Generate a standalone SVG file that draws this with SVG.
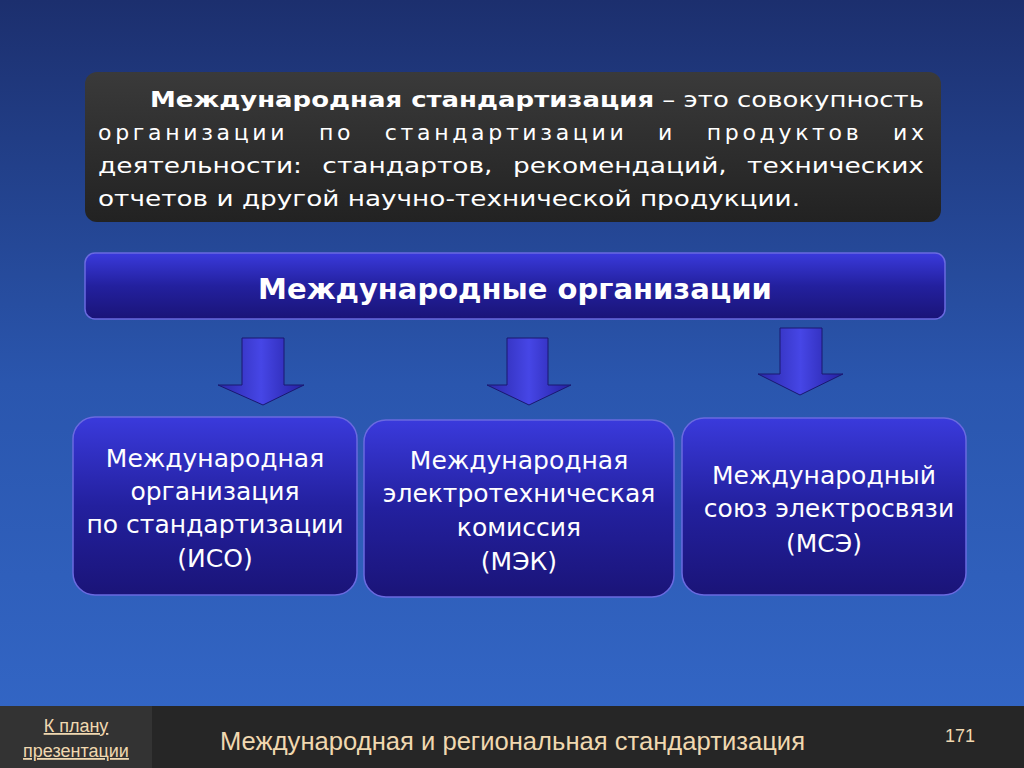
<svg xmlns="http://www.w3.org/2000/svg" width="1024" height="768" viewBox="0 0 1024 768">
<defs>
<linearGradient id="bg" x1="0" y1="0" x2="0" y2="1"><stop offset="0" stop-color="#1c2f6e"/><stop offset="0.5" stop-color="#2a56ae"/><stop offset="1" stop-color="#3468c8"/></linearGradient>
<linearGradient id="box" x1="0" y1="0" x2="0" y2="1"><stop offset="0" stop-color="#3a3adc"/><stop offset="0.5" stop-color="#23209e"/><stop offset="1" stop-color="#1a1478"/></linearGradient>
<linearGradient id="arr" x1="0" y1="0" x2="1" y2="0"><stop offset="0" stop-color="#2a28a8"/><stop offset="0.5" stop-color="#4646e6"/><stop offset="1" stop-color="#2420a0"/></linearGradient>
<linearGradient id="dark" x1="0" y1="0" x2="0" y2="1"><stop offset="0" stop-color="#3a3a3a"/><stop offset="1" stop-color="#222"/></linearGradient>
</defs>
<style>
.w{fill:#fff;font-family:"DejaVu Sans",sans-serif}
.node{fill:url(#box);stroke:#6a6ae0;stroke-width:1.5}
.arrow{fill:url(#arr);stroke:#1a1870;stroke-width:1}
</style>
<rect width="1024" height="768" fill="url(#bg)"/>
<g id="definition">
<rect x="85" y="72" width="856" height="150" rx="12" fill="url(#dark)"/>
<text class="w" font-size="22" x="150" y="107" textLength="774" lengthAdjust="spacingAndGlyphs"><tspan font-weight="bold">Международная стандартизация</tspan> – это совокупность</text>
<text class="w" font-size="22" x="98" y="140" textLength="826" lengthAdjust="spacing" word-spacing="20">организации по стандартизации и продуктов их</text>
<text class="w" font-size="22" x="98" y="173" textLength="826" lengthAdjust="spacingAndGlyphs" word-spacing="10">деятельности: стандартов, рекомендаций, технических</text>
<text class="w" font-size="22" x="98" y="206" textLength="702" lengthAdjust="spacingAndGlyphs">отчетов и другой научно-технической продукции.</text>
</g>
<g id="header">
<rect x="85" y="253" width="860" height="66" rx="10" class="node"/>
<text class="w" font-size="29" font-weight="bold" x="515" y="299" text-anchor="middle">Международные организации</text>
</g>
<g id="connectors">
<polygon class="arrow" points="242,338 284,338 284,385 304,385 263,405 218,385 242,385"/>
<polygon class="arrow" points="507,338 548,338 548,385 571,385 529,405 487,385 507,385"/>
<polygon class="arrow" points="780,328 822,328 822,374 843,374 800,395 758,374 780,374"/>
</g>
<g id="iso">
<rect x="73" y="417" width="284" height="178" rx="22" class="node"/>
<text class="w" font-size="25" text-anchor="middle"><tspan x="215" y="467">Международная</tspan><tspan x="215" y="500">организация</tspan><tspan x="215" y="533">по стандартизации</tspan><tspan x="215" y="567">(ИСО)</tspan></text>
</g>
<g id="iec">
<rect x="364" y="420" width="310" height="177" rx="22" class="node"/>
<text class="w" font-size="25" text-anchor="middle"><tspan x="519" y="469">Международная</tspan><tspan x="519" y="502">электротехническая</tspan><tspan x="519" y="536">комиссия</tspan><tspan x="519" y="570">(МЭК)</tspan></text>
</g>
<g id="itu">
<rect x="682" y="418" width="284" height="177" rx="22" class="node"/>
<text class="w" font-size="25" text-anchor="middle"><tspan x="824" y="484">Международный</tspan><tspan x="829" y="517">союз электросвязи</tspan><tspan x="824" y="552">(МСЭ)</tspan></text>
</g>
<g id="footer">
<rect x="0" y="706" width="1024" height="62" fill="#262626"/>
<rect x="0" y="706" width="152" height="62" fill="#333"/>
<text font-family="Liberation Sans,sans-serif" font-size="18" fill="#f0d8b0" text-anchor="middle" text-decoration="underline"><tspan x="76" y="732">К плану</tspan><tspan x="76" y="757">презентации</tspan></text>
<text font-family="Liberation Sans,sans-serif" font-size="25" fill="#f0d8b0" x="220" y="750" textLength="585" lengthAdjust="spacingAndGlyphs">Международная и региональная стандартизация</text>
<text font-family="Liberation Sans,sans-serif" font-size="18" fill="#f0d8b0" x="945" y="742">171</text>
</g>
</svg>
